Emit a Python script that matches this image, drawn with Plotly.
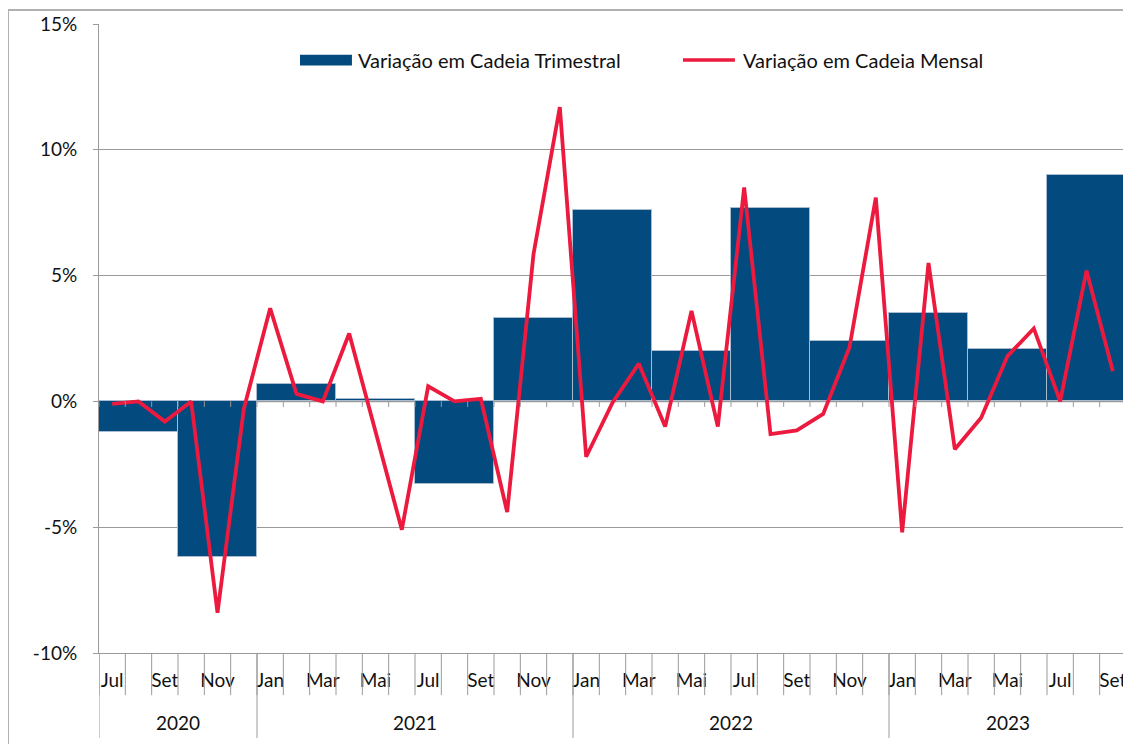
import plotly.graph_objects as go

# ---- data ----
months = ["Jul", "Ago", "Set", "Out", "Nov", "Dez",
          "Jan", "Fev", "Mar", "Abr", "Mai", "Jun", "Jul", "Ago", "Set", "Out", "Nov", "Dez",
          "Jan", "Fev", "Mar", "Abr", "Mai", "Jun", "Jul", "Ago", "Set", "Out", "Nov", "Dez",
          "Jan", "Fev", "Mar", "Abr", "Mai", "Jun", "Jul", "Ago", "Set"]
years = ["2020", "2021", "2022", "2023"]
months_per_year = [6, 12, 12, 9]

monthly = [-0.1, 0.0, -0.8, 0.0, -8.4, -0.3,
           3.7, 0.3, 0.0, 2.7, -1.2, -5.1, 0.6, 0.0, 0.1, -4.4, 5.85, 11.7,
           -2.2, -0.05, 1.5, -1.0, 3.6, -1.0, 8.5, -1.3, -1.15, -0.5, 2.15, 8.1,
           -5.2, 5.5, -1.9, -0.65, 1.8, 2.9, 0.0, 5.2, 1.2]
quarterly = [-1.2, -6.2, 0.7, 0.1, -3.3, 3.3, 7.6, 2.0, 7.7, 2.4, 3.5, 2.1, 9.0]

y_ticks = [-10, -5, 0, 5, 10, 15]
y_tick_labels = ["-10%", "-5%", "0%", "5%", "10%", "15%"]

name_bar = "Variação em Cadeia Trimestral"
name_line = "Variação em Cadeia Mensal"

BAR = "#034A7E"
RED = "#EC1A3E"
GRID = "#9A9A9A"
FONT = "Lato"
TXT = "#111111"

n = len(months)
x_month = list(range(n))
x_quarter = [3 * i + 1 for i in range(len(quarterly))]

fig = go.Figure()
fig.add_trace(go.Bar(x=x_quarter, y=quarterly, width=[3] * len(quarterly), name=name_bar,
                     marker=dict(color=BAR, line=dict(color="#A9BCCF", width=1)),
                     showlegend=False))
fig.add_trace(go.Scatter(x=x_month, y=monthly, mode="lines", name=name_line,
                         line=dict(color=RED, width=3.8), showlegend=False))

shapes = []
for k in range(n + 1):
    shapes.append(dict(type="line", xref="x", yref="paper", x0=k - 0.5, x1=k - 0.5,
                       y0=0, y1=-0.067, line=dict(color=GRID, width=1)))
    shapes.append(dict(type="line", xref="x", yref="y", x0=k - 0.5, x1=k - 0.5,
                       y0=0, y1=-0.22, line=dict(color=GRID, width=1), layer="above"))
annotations = []
start = 0
for yr, cnt in zip(years, months_per_year):
    shapes.append(dict(type="line", xref="x", yref="paper", x0=start - 0.5, x1=start - 0.5,
                       y0=0, y1=-0.135, line=dict(color=GRID, width=1)))
    annotations.append(dict(text=yr, xref="x", yref="paper", x=start - 0.5 + cnt / 2, y=-0.11,
                            showarrow=False, font=dict(size=19, color=TXT, family=FONT),
                            yanchor="middle"))
    start += cnt
shapes.append(dict(type="line", xref="x", yref="paper", x0=start - 0.5, x1=start - 0.5,
                   y0=0, y1=-0.135, line=dict(color=GRID, width=1)))
shapes.append(dict(type="line", xref="paper", yref="y", x0=0, x1=1, y0=0, y1=0,
                   line=dict(color=GRID, width=1.5), layer="below"))
# outer chart border (left and top)
shapes.append(dict(type="line", xref="paper", yref="paper", x0=-0.0886, x1=-0.0886,
                   y0=1.0223, y1=-0.2, line=dict(color="#B0B0B0", width=2)))
shapes.append(dict(type="line", xref="paper", yref="paper", x0=-0.0886, x1=1.01,
                   y0=1.0223, y1=1.0223, line=dict(color="#B0B0B0", width=2)))

# custom legend
shapes.append(dict(type="rect", xref="paper", yref="paper", x0=0.1957, x1=0.2463,
                   y0=0.934, y1=0.951, fillcolor=BAR, line=dict(width=0)))
shapes.append(dict(type="line", xref="paper", yref="paper", x0=0.5686, x1=0.6192,
                   y0=0.9428, y1=0.9428, line=dict(color=RED, width=3.5)))
annotations.append(dict(text=name_bar, xref="paper", yref="paper", x=0.2503, y=0.9428,
                        xanchor="left", yanchor="middle", showarrow=False,
                        font=dict(size=20, color=TXT, family=FONT)))
annotations.append(dict(text=name_line, xref="paper", yref="paper", x=0.6252, y=0.9428,
                        xanchor="left", yanchor="middle", showarrow=False,
                        font=dict(size=20, color=TXT, family=FONT)))

tick_idx = list(range(0, n, 2))
# page body has an 8px margin, so the figure is sized/margined to compensate
fig.update_layout(
    width=1123, height=736,
    margin=dict(l=91, r=5, t=16, b=91, autoexpand=False),
    paper_bgcolor="white", plot_bgcolor="white",
    font=dict(family=FONT, size=19, color=TXT),
    bargap=0,
    shapes=shapes, annotations=annotations,
    xaxis=dict(range=[-0.5, n - 0.5], tickmode="array", tickvals=tick_idx,
               ticktext=[months[i] for i in tick_idx], ticks="outside", ticklen=10,
               tickcolor="rgba(0,0,0,0)", showgrid=False, zeroline=False,
               showline=True, linecolor=GRID, linewidth=1, mirror=False,
               tickfont=dict(size=19, family=FONT, color=TXT)),
    yaxis=dict(range=[-10, 15], tickmode="array", tickvals=y_ticks, ticktext=y_tick_labels,
               showgrid=True, gridcolor=GRID, gridwidth=1,
               zeroline=False, showline=True, linecolor=GRID, linewidth=1,
               ticks="outside", ticklen=5, tickcolor=GRID, ticklabelstandoff=12,
               tickfont=dict(size=19, family=FONT, color=TXT)),
)

fig.write_html("out.html")
